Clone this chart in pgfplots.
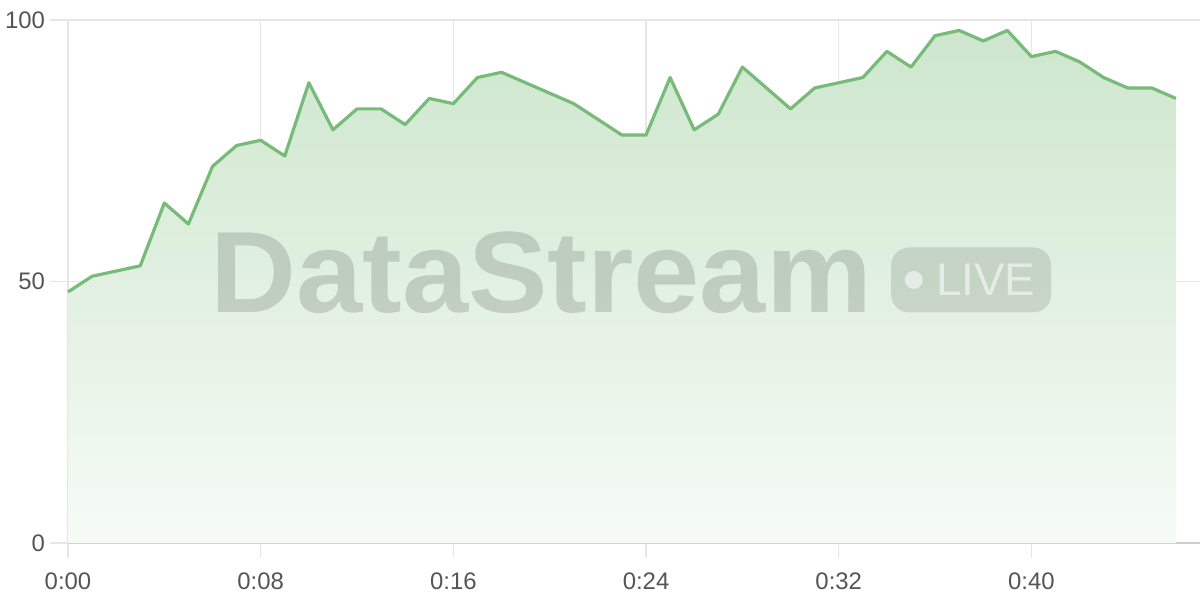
\documentclass[border=0pt]{standalone}
\usepackage{pgfplots}
\pgfplotsset{compat=1.18}
\usepackage{fontspec}
\setmainfont{Liberation Sans}
\definecolor{linegreen}{HTML}{78BA78}
\definecolor{filltop}{HTML}{CDE6CD}
\definecolor{fillbot}{HTML}{F6FBF6}
\definecolor{gridgray}{HTML}{E6E6E6}
\definecolor{axisgray}{HTML}{CCCCCC}
\definecolor{labelgray}{HTML}{555555}
\definecolor{wmgray}{HTML}{8A968A}

\begin{document}
\begin{tikzpicture}
\begin{axis}[
    at={(0,0)}, anchor=origin,
    scale only axis,
    width=566bp, height=261.5bp,
    xmin=0, xmax=47, ymin=0, ymax=100,
    axis x line*=bottom, axis y line*=left,
    x axis line style={draw=axisgray, line width=0.8pt},
    y axis line style={draw=none},
    xtick={0,8,16,24,32,40},
    xticklabels={0:00,0:08,0:16,0:24,0:32,0:40},
    ytick={0,50,100},
    grid=major,
    major grid style={draw=gridgray, line width=0.6pt},
    tick align=outside,
    major tick length=7.5bp,
    xtick style={draw=gridgray, line width=0.6pt},
    ytick style={draw=none},
    /pgf/number format/assume math mode=true,
    tick label style={font=\fontsize{12}{14}\selectfont, text=labelgray},
    xticklabel style={yshift=-4bp},
    yticklabel style={xshift=-0.5bp},
    clip=false,
]
\addplot[draw=none, top color=filltop, bottom color=fillbot] coordinates {
(0,48) (1,51) (2,52) (3,53) (4,65) (5,61) (6,72) (7,76) (8,77) (9,74)
(10,88) (11,79) (12,83) (13,83) (14,80) (15,85) (16,84) (17,89) (18,90) (19,88)
(20,86) (21,84) (22,81) (23,78) (24,78) (25,89) (26,79) (27,82) (28,91) (29,87)
(30,83) (31,87) (32,88) (33,89) (34,94) (35,91) (36,97) (37,98) (38,96) (39,98)
(40,93) (41,94) (42,92) (43,89) (44,87) (45,87) (46,85)
} \closedcycle;
\addplot[linegreen, line width=1.6pt, line join=round] coordinates {
(0,48) (1,51) (2,52) (3,53) (4,65) (5,61) (6,72) (7,76) (8,77) (9,74)
(10,88) (11,79) (12,83) (13,83) (14,80) (15,85) (16,84) (17,89) (18,90) (19,88)
(20,86) (21,84) (22,81) (23,78) (24,78) (25,89) (26,79) (27,82) (28,91) (29,87)
(30,83) (31,87) (32,88) (33,89) (34,94) (35,91) (36,97) (37,98) (38,96) (39,98)
(40,93) (41,94) (42,92) (43,89) (44,87) (45,87) (46,85)
};
% y tick stubs, left of the plot area
\draw[gridgray, line width=0.6pt] (axis cs:0,100) -- ++(-9bp,0);
\draw[gridgray, line width=0.6pt] (axis cs:0,50) -- ++(-9bp,0);
\draw[gridgray, line width=0.6pt] (axis cs:0,0) -- ++(-9bp,0);
% watermark
\node[anchor=base west, inner sep=0pt, text=wmgray, text opacity=0.38,
      font=\fontsize{58}{58}\selectfont\bfseries, xscale=1.03]
  at (axis cs:5.9,44) {DataStream};
\node[fill=wmgray, fill opacity=0.3, rounded corners=9bp,
      minimum width=80bp, minimum height=32.5bp, inner sep=0pt]
  (badge) at (axis cs:37.5,50.3) {};
\fill[white, opacity=0.55] ([xshift=11.5bp]badge.west) circle (4.5bp);
\node[anchor=west, inner sep=0pt, text=white, text opacity=0.55,
      font=\fontsize{23}{23}\selectfont]
  at ([xshift=22.5bp]badge.west) {LIVE};
\end{axis}
\pgfresetboundingbox
\path (-34bp,-28.5bp) rectangle (566bp,271.5bp);
\end{tikzpicture}
\end{document}
